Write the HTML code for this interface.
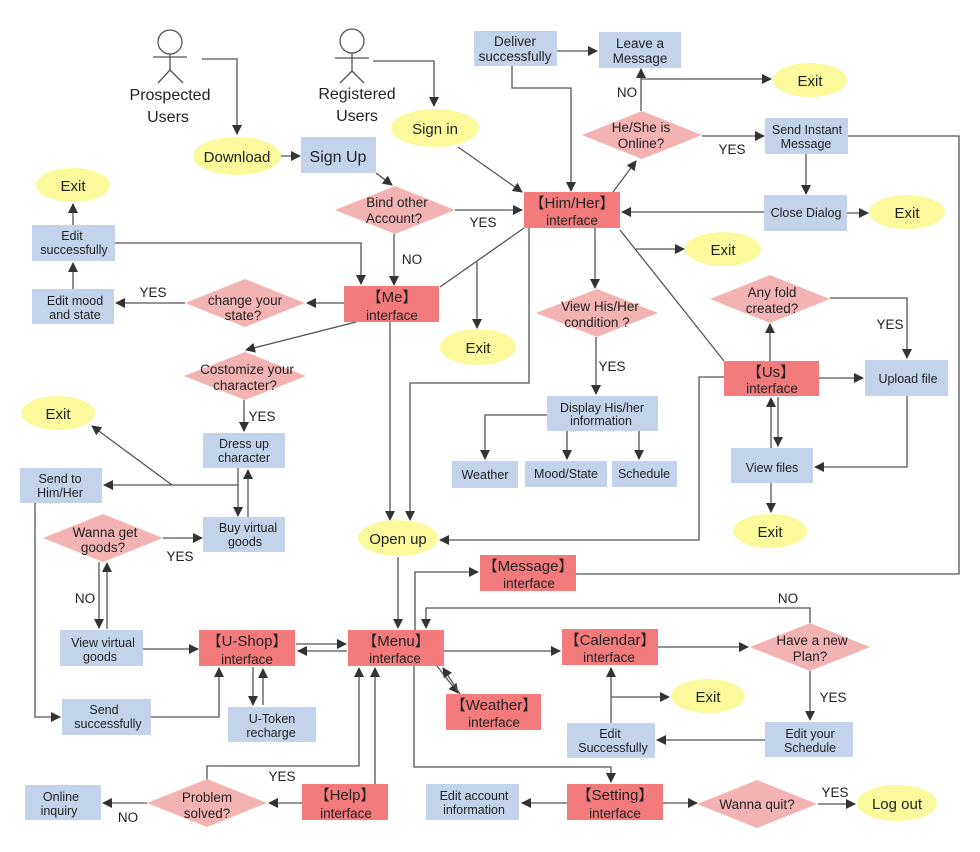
<!DOCTYPE html>
<html><head><meta charset="utf-8"><style>
html,body{margin:0;padding:0;background:#fff}
svg{display:block}
text{font-family:"Liberation Sans",sans-serif;fill:#222;text-anchor:middle}
.b{fill:#c3d3ec}.r{fill:#f47b7b}.d{fill:#f4b3b3}.e{fill:#fafa9c}
.l{stroke:#555;stroke-width:1.3;fill:none}
.t{font-size:13.5px}.s{font-size:12.5px}.big{font-size:16px}.lab{font-size:15px}
</style></head><body>
<svg width="980" height="852" viewBox="0 0 980 852">
<defs><marker id="a" markerWidth="10" markerHeight="10" refX="9" refY="5" orient="auto" markerUnits="userSpaceOnUse"><path d="M0,0 L10,5 L0,10 z" fill="#333"/></marker></defs>

<!-- stick figures -->
<g class="l" stroke="#444">
<circle cx="170" cy="42" r="12"/><line x1="170" y1="54" x2="170" y2="70"/><line x1="153" y1="57" x2="187" y2="57"/><line x1="170" y1="70" x2="158" y2="83"/><line x1="170" y1="70" x2="183" y2="83"/>
<circle cx="352" cy="41" r="12"/><line x1="352" y1="53" x2="352" y2="71"/><line x1="335" y1="58" x2="369" y2="58"/><line x1="352" y1="71" x2="340" y2="83"/><line x1="352" y1="71" x2="364" y2="83"/>
</g>
<text x="170" y="100" class="big">Prospected</text><text x="168" y="122" class="big">Users</text>
<text x="357" y="99" class="big">Registered</text><text x="357" y="121" class="big">Users</text>

<!-- lines -->
<g class="l">
<path d="M202,59 H237 V134" marker-end="url(#a)"/>
<path d="M373,61 H434 V106" marker-end="url(#a)"/>
<path d="M281,156 H300" marker-end="url(#a)"/>
<path d="M376,173 L392,185" marker-end="url(#a)"/>
<path d="M455,210 H522" marker-end="url(#a)"/>
<path d="M394,234 V285" marker-end="url(#a)"/>
<path d="M458,147 L522,192" marker-end="url(#a)"/>
<path d="M557,51 H597" marker-end="url(#a)"/>
<path d="M512,66 V88 H571 V191" marker-end="url(#a)"/>
<path d="M613,192 L636,161" marker-end="url(#a)"/>
<path d="M641,111 V69" marker-end="url(#a)"/>
<path d="M641,79 H771" marker-end="url(#a)"/>
<path d="M702,136 H764" marker-end="url(#a)"/>
<path d="M806,154 V194" marker-end="url(#a)"/>
<path d="M764,212 H622" marker-end="url(#a)"/>
<path d="M847,213 H868" marker-end="url(#a)"/>
<path d="M848,136 H959 V574 H576"/>
<path d="M636,249 H684" marker-end="url(#a)"/>
<path d="M620,230 L724,361"/>
<path d="M595,228 V288" marker-end="url(#a)"/>
<path d="M596,337 V394" marker-end="url(#a)"/>
<path d="M547,415 H485 V459" marker-end="url(#a)"/>
<path d="M567,431 V459" marker-end="url(#a)"/>
<path d="M639,431 V459" marker-end="url(#a)"/>
<path d="M524,228 L440,287"/>
<path d="M477,262 V328" marker-end="url(#a)"/>
<path d="M529,228 V383 H410 V520" marker-end="url(#a)"/>
<path d="M115,243 H361 V284" marker-end="url(#a)"/>
<path d="M73,225 V204" marker-end="url(#a)"/>
<path d="M73,289 V263" marker-end="url(#a)"/>
<path d="M344,303 H307" marker-end="url(#a)"/>
<path d="M185,303 H116" marker-end="url(#a)"/>
<path d="M356,322 L246,350" marker-end="url(#a)"/>
<path d="M244,400 V431" marker-end="url(#a)"/>
<path d="M390,322 V520" marker-end="url(#a)"/>
<path d="M238,468 V516" marker-end="url(#a)"/>
<path d="M248,517 V470" marker-end="url(#a)"/>
<path d="M238,485 H104" marker-end="url(#a)"/>
<path d="M172,485 L92,426" marker-end="url(#a)"/>
<path d="M163,538 H202" marker-end="url(#a)"/>
<path d="M99,562 V628" marker-end="url(#a)"/>
<path d="M107,629 V563" marker-end="url(#a)"/>
<path d="M143,649 H198" marker-end="url(#a)"/>
<path d="M35,503 V717 H60" marker-end="url(#a)"/>
<path d="M151,717 H219 V668" marker-end="url(#a)"/>
<path d="M296,644 H346" marker-end="url(#a)"/>
<path d="M347,651 H298" marker-end="url(#a)"/>
<path d="M253,667 V705" marker-end="url(#a)"/>
<path d="M263,705 V669" marker-end="url(#a)"/>
<path d="M398,557 V628" marker-end="url(#a)"/>
<path d="M724,377 H699 V540 H440" marker-end="url(#a)"/>
<path d="M415,630 V572 H478" marker-end="url(#a)"/>
<path d="M810,623 V608 H426 V628" marker-end="url(#a)"/>
<path d="M444,651 H560" marker-end="url(#a)"/>
<path d="M658,647 H748" marker-end="url(#a)"/>
<path d="M810,671 V720" marker-end="url(#a)"/>
<path d="M765,740 H657" marker-end="url(#a)"/>
<path d="M611,723 V668" marker-end="url(#a)"/>
<path d="M611,697 H669" marker-end="url(#a)"/>
<path d="M437,666 L458,693" marker-end="url(#a)"/>
<path d="M460,694 L443,668" marker-end="url(#a)"/>
<path d="M414,666 V767 H611 V782" marker-end="url(#a)"/>
<path d="M567,803 H522" marker-end="url(#a)"/>
<path d="M663,803 H697" marker-end="url(#a)"/>
<path d="M818,804 H855" marker-end="url(#a)"/>
<path d="M375,784 V668" marker-end="url(#a)"/>
<path d="M302,803 H269" marker-end="url(#a)"/>
<path d="M207,780 V766 H359 V668" marker-end="url(#a)"/>
<path d="M147,803 H103" marker-end="url(#a)"/>
<path d="M819,378 H863" marker-end="url(#a)"/>
<path d="M770,361 V324" marker-end="url(#a)"/>
<path d="M830,298 H907 V358" marker-end="url(#a)"/>
<path d="M907,396 V467 H815" marker-end="url(#a)"/>
<path d="M771,448 V398" marker-end="url(#a)"/>
<path d="M778,397 V446" marker-end="url(#a)"/>
<path d="M771,483 V512" marker-end="url(#a)"/>
</g>

<!-- ellipses -->
<g class="e">
<ellipse cx="237" cy="156" rx="44" ry="19"/><ellipse cx="435" cy="128" rx="44" ry="19"/>
<ellipse cx="810" cy="80" rx="37" ry="17"/><ellipse cx="907" cy="212" rx="38" ry="17"/>
<ellipse cx="723" cy="249" rx="38" ry="17"/><ellipse cx="478" cy="347" rx="38" ry="18"/>
<ellipse cx="73" cy="185" rx="37" ry="17"/><ellipse cx="58" cy="413" rx="37" ry="17"/>
<ellipse cx="398" cy="538" rx="40" ry="18"/><ellipse cx="770" cy="531" rx="37" ry="17"/>
<ellipse cx="708" cy="696" rx="37" ry="17"/><ellipse cx="897" cy="803" rx="40" ry="18"/>
</g>
<g class="lab">
<text x="237" y="162">Download</text><text x="435" y="134">Sign in</text>
<text x="810" y="86">Exit</text><text x="907" y="218">Exit</text><text x="723" y="255">Exit</text>
<text x="478" y="353">Exit</text><text x="73" y="191">Exit</text><text x="58" y="419">Exit</text>
<text x="398" y="544">Open up</text><text x="770" y="537">Exit</text><text x="708" y="702">Exit</text>
<text x="897" y="809">Log out</text>
</g>

<!-- diamonds -->
<g class="d">
<polygon points="335,210 395,186 455,210 395,234"/>
<polygon points="582,135 642,111 702,135 642,159"/>
<polygon points="536,313 597,289 658,313 597,337"/>
<polygon points="185,303 245,279 305,303 245,327"/>
<polygon points="184,376 245,352 306,376 245,400"/>
<polygon points="43,538 103,514 163,538 103,562"/>
<polygon points="710,299 770,275 830,299 770,323"/>
<polygon points="750,647 810,623 870,647 810,671"/>
<polygon points="697,804 757,780 817,804 757,828"/>
<polygon points="147,803 207,779 267,803 207,827"/>
</g>
<g class="t">
<text x="397" y="207">Bind other</text><text x="394" y="223">Account?</text>
<text x="641" y="132">He/She is</text><text x="641" y="148">Online?</text>
<text x="600" y="311">View His/Her</text><text x="597" y="327">condition ?</text>
<text x="245" y="305">change your</text><text x="243" y="320">state?</text>
<text x="247" y="374">Costomize your</text><text x="245" y="390">character?</text>
<text x="105" y="537">Wanna get</text><text x="103" y="552">goods?</text>
<text x="772" y="297">Any fold</text><text x="772" y="313">created?</text>
<text x="812" y="645">Have a new</text><text x="810" y="661">Plan?</text>
<text x="757" y="809">Wanna quit?</text>
<text x="207" y="802">Problem</text><text x="207" y="818">solved?</text>
</g>

<!-- blue boxes -->
<g class="b">
<rect x="301" y="137" width="75" height="36"/><rect x="474" y="31" width="83" height="35"/>
<rect x="599" y="32" width="82" height="36"/><rect x="765" y="118" width="83" height="36"/>
<rect x="764" y="195" width="83" height="36"/><rect x="547" y="396" width="111" height="35"/>
<rect x="452" y="461" width="66" height="27"/><rect x="525" y="461" width="82" height="26"/>
<rect x="612" y="461" width="65" height="26"/><rect x="32" y="225" width="83" height="36"/>
<rect x="32" y="289" width="82" height="35"/><rect x="203" y="433" width="82" height="35"/>
<rect x="203" y="517" width="82" height="35"/><rect x="20" y="468" width="82" height="35"/>
<rect x="60" y="630" width="83" height="36"/><rect x="62" y="699" width="89" height="36"/>
<rect x="228" y="707" width="88" height="35"/><rect x="865" y="360" width="83" height="36"/>
<rect x="731" y="448" width="82" height="35"/><rect x="765" y="722" width="88" height="35"/>
<rect x="567" y="723" width="88" height="35"/><rect x="426" y="784" width="93" height="36"/>
<rect x="25" y="785" width="76" height="35"/>
</g>
<text x="338" y="162" class="big">Sign Up</text>
<g class="t">
<text x="515" y="46">Deliver</text><text x="515" y="61">successfully</text>
<text x="640" y="48">Leave a</text><text x="640" y="63">Message</text>
</g>
<g class="s">
<text x="807" y="134">Send Instant</text><text x="806" y="148">Message</text>
<text x="806" y="217">Close Dialog</text>
<text x="602" y="412">Display His/her</text><text x="601" y="425">information</text>
<text x="485" y="479">Weather</text><text x="566" y="478">Mood/State</text><text x="644" y="478">Schedule</text>
<text x="72" y="240">Edit</text><text x="74" y="254">successfully</text>
<text x="75" y="305">Edit mood</text><text x="75" y="319">and state</text>
<text x="244" y="448">Dress up</text><text x="244" y="462">character</text>
<text x="248" y="532">Buy virtual</text><text x="245" y="546">goods</text>
<text x="60" y="483">Send to</text><text x="60" y="497">Him/Her</text>
<text x="103" y="647">View virtual</text><text x="100" y="661">goods</text>
<text x="104" y="714">Send</text><text x="108" y="728">successfully</text>
<text x="272" y="723">U-Token</text><text x="271" y="737">recharge</text>
<text x="908" y="383">Upload file</text>
<text x="772" y="472">View files</text>
<text x="810" y="738">Edit your</text><text x="810" y="752">Schedule</text>
<text x="610" y="738">Edit</text><text x="613" y="752">Successfully</text>
<text x="474" y="800">Edit account</text><text x="474" y="814">information</text>
<text x="61" y="801">Online</text><text x="59" y="815">inquiry</text>
</g>

<!-- red boxes -->
<g class="r">
<rect x="524" y="192" width="96" height="36"/><rect x="344" y="286" width="95" height="36"/>
<rect x="724" y="361" width="95" height="35"/><rect x="480" y="555" width="96" height="36"/>
<rect x="199" y="630" width="96" height="36"/><rect x="348" y="630" width="96" height="36"/>
<rect x="562" y="629" width="96" height="36"/><rect x="446" y="694" width="95" height="36"/>
<rect x="567" y="784" width="96" height="36"/><rect x="302" y="784" width="86" height="36"/>
</g>
<g>
<text x="572" y="208" class="lab">【Him/Her】</text><text x="572" y="225" class="t">interface</text>
<text x="392" y="302" class="lab">【Me】</text><text x="392" y="320" class="t">interface</text>
<text x="771" y="377" class="lab">【Us】</text><text x="772" y="393" class="t">interface</text>
<text x="528" y="571" class="lab">【Message】</text><text x="529" y="588" class="t">interface</text>
<text x="247" y="646" class="lab">【U-Shop】</text><text x="247" y="664" class="t">interface</text>
<text x="396" y="646" class="lab">【Menu】</text><text x="395" y="663" class="t">interface</text>
<text x="610" y="645" class="lab">【Calendar】</text><text x="609" y="662" class="t">interface</text>
<text x="494" y="710" class="lab">【Weather】</text><text x="494" y="727" class="t">interface</text>
<text x="615" y="800" class="lab">【Setting】</text><text x="615" y="818" class="t">interface</text>
<text x="345" y="800" class="lab">【Help】</text><text x="346" y="818" class="t">interface</text>
</g>

<!-- edge labels -->
<g class="t">
<text x="483" y="227">YES</text><text x="412" y="264">NO</text><text x="627" y="97">NO</text>
<text x="732" y="154">YES</text><text x="612" y="371">YES</text><text x="153" y="297">YES</text>
<text x="262" y="421">YES</text><text x="180" y="561">YES</text><text x="85" y="603">NO</text>
<text x="890" y="329">YES</text><text x="788" y="603">NO</text><text x="833" y="702">YES</text>
<text x="835" y="797">YES</text><text x="282" y="781">YES</text><text x="128" y="822">NO</text>
</g>
</svg>
</body></html>
